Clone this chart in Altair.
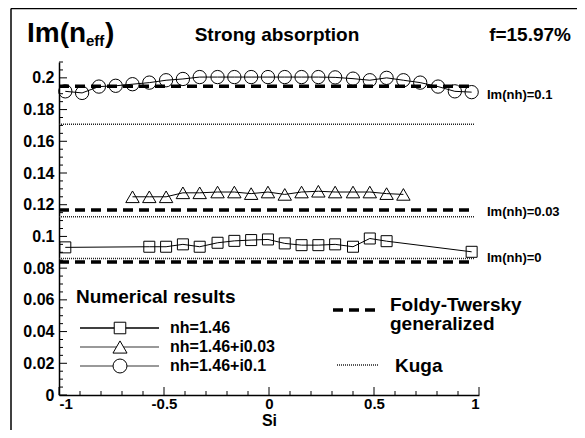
import altair as alt
import pandas as pd

# ---------------- data ----------------
si_circle = [-0.97, -0.89, -0.81, -0.73, -0.65, -0.57, -0.49, -0.41, -0.33, -0.245,
             -0.165, -0.085, -0.005, 0.075, 0.155, 0.235, 0.315, 0.40, 0.48, 0.56,
             0.64, 0.72, 0.805, 0.885, 0.965]
im_circle = [0.1915, 0.1905, 0.1945, 0.195, 0.196, 0.197, 0.1985, 0.1993, 0.2005, 0.2005,
             0.2005, 0.2005, 0.2005, 0.2005, 0.2005, 0.2005, 0.2003, 0.1995, 0.1985, 0.2,
             0.1985, 0.197, 0.1945, 0.1915, 0.191]

si_tri = [-0.65, -0.57, -0.49, -0.41, -0.33, -0.245, -0.165, -0.085, -0.005, 0.075,
          0.155, 0.235, 0.315, 0.40, 0.48, 0.56, 0.64]
im_tri = [0.125, 0.125, 0.125, 0.1275, 0.1275, 0.128, 0.128, 0.127, 0.128, 0.1265,
          0.128, 0.1285, 0.128, 0.128, 0.128, 0.127, 0.1265]

si_sq = [-0.97, -0.57, -0.49, -0.41, -0.33, -0.245, -0.165, -0.085, -0.005, 0.075,
         0.155, 0.235, 0.315, 0.40, 0.48, 0.56, 0.965]
im_sq = [0.0931, 0.0935, 0.0935, 0.0950, 0.0935, 0.0960, 0.0972, 0.0977, 0.0981, 0.0956,
         0.0945, 0.0945, 0.0950, 0.0935, 0.0987, 0.0970, 0.0903]

ft_levels = [0.1947, 0.1166, 0.0838]      # Foldy-Twersky generalized
ft_x = [-1.0, 0.965]
kuga_levels = [0.1708, 0.1124, 0.0861]    # Kuga
kuga_x = [-1.0, 0.98]
ref_labels = ["Im(nh)=0.1", "Im(nh)=0.03", "Im(nh)=0"]
ref_label_y = [0.189, 0.1155, 0.0861]

series_names = ["nh=1.46", "nh=1.46+i0.03", "nh=1.46+i0.1"]

x_major = [-1, -0.5, 0, 0.5, 1]
x_minor = [-0.9, -0.8, -0.7, -0.6, -0.4, -0.3, -0.2, -0.1, 0.1, 0.2, 0.3, 0.4, 0.6, 0.7, 0.8, 0.9]
y_major = [0, 0.02, 0.04, 0.06, 0.08, 0.1, 0.12, 0.14, 0.16, 0.18, 0.2]
y_minor = [round(i * 0.005, 3) for i in range(43) if i % 4 != 0]

# ---------------- layout / style ----------------
W, H = 420, 333
FONT = "Liberation Sans"

xscale = alt.Scale(domain=[-1, 1], nice=False, zero=False)
yscale = alt.Scale(domain=[0, 0.21], nice=False, zero=False)
xaxis = alt.Axis(values=x_major, labelExpr="toString(datum.value)", ticks=False, tickSize=0,
                 grid=False, domainColor="black", domainWidth=1.5, labelFont=FONT,
                 labelFontWeight="bold", labelFontSize=15, labelColor="black", labelPadding=1,
                 title="Si", titleFont=FONT, titleFontWeight="bold", titleFontSize=16,
                 titleColor="black", titlePadding=1)
yaxis = alt.Axis(values=y_major, labelExpr="toString(datum.value)", ticks=False, tickSize=0,
                 grid=False, domainColor="black", domainWidth=1.5, labelFont=FONT,
                 labelFontWeight="bold", labelFontSize=16, labelColor="black", labelPadding=5,
                 title=None)


def X(field):
    return alt.X(field, type="quantitative", scale=xscale, axis=xaxis)


def Y(field):
    return alt.Y(field, type="quantitative", scale=yscale, axis=yaxis)


dummy = pd.DataFrame({"d": [0]})


def label(text, x, y, size, align="left", baseline="alphabetic"):
    return alt.Chart(dummy).mark_text(
        text=text, font=FONT, fontWeight="bold", fontSize=size, align=align,
        baseline=baseline, color="black").encode(x=alt.value(x), y=alt.value(y))


layers = []

# reference lines
ft_df = pd.DataFrame({"x1": [ft_x[0]] * 3, "x2": [ft_x[1]] * 3, "y": ft_levels})
kuga_df = pd.DataFrame({"x1": [kuga_x[0]] * 3, "x2": [kuga_x[1]] * 3, "y": kuga_levels})
layers.append(alt.Chart(kuga_df).mark_rule(color="#222222", strokeWidth=1.5, strokeDash=[1, 1])
              .encode(x=X("x1"), x2="x2", y=Y("y")))
layers.append(alt.Chart(ft_df).mark_rule(color="black", strokeWidth=3.5, strokeDash=[10, 6])
              .encode(x=X("x1"), x2="x2", y=Y("y")))

# numerical series
series = [
    (si_sq, im_sq, "square", 121),
    (si_tri, im_tri, "triangle-up", 180),
    (si_circle, im_circle, "circle", 177),
]
for (xs, ys, shape, size), name in zip(series, series_names):
    df = pd.DataFrame({"x": xs, "y": ys, "s": name})
    layers.append(alt.Chart(df).mark_line(color="black", strokeWidth=1)
                  .encode(x=X("x"), y=Y("y")))
    layers.append(alt.Chart(df).mark_point(shape=shape, size=size, filled=False,
                                           color="black", strokeWidth=1, opacity=1)
                  .encode(x=X("x"), y=Y("y")))

# right-hand labels of reference lines
rl = pd.DataFrame({"y": ref_label_y, "t": ref_labels})
layers.append(alt.Chart(rl).mark_text(font=FONT, fontWeight="bold", fontSize=13, align="left",
                                      baseline="middle", color="black")
              .encode(x=alt.value(W + 8), y=Y("y"), text="t:N"))

# inward ticks
layers.append(alt.Chart(pd.DataFrame({"x": x_major})).mark_rule(color="black", strokeWidth=1)
              .encode(x=X("x"), y=alt.value(H), y2=alt.value(H - 8)))
layers.append(alt.Chart(pd.DataFrame({"x": x_minor})).mark_rule(color="black", strokeWidth=1)
              .encode(x=X("x"), y=alt.value(H), y2=alt.value(H - 4)))
layers.append(alt.Chart(pd.DataFrame({"y": y_major})).mark_rule(color="black", strokeWidth=1)
              .encode(y=Y("y"), x=alt.value(0), x2=alt.value(8)))
layers.append(alt.Chart(pd.DataFrame({"y": y_minor})).mark_rule(color="black", strokeWidth=1)
              .encode(y=Y("y"), x=alt.value(0), x2=alt.value(4)))

# titles
layers.append(label("Im(n", -32, -20, 28))
layers.append(label("eff", 27, -16, 15))
layers.append(label(")", 46, -20, 28))
layers.append(label("Strong absorption", W / 2 + 8, -21, 19, align="center"))
layers.append(label("f=15.97%", 512, -21, 19, align="right"))

# legend: numerical results
layers.append(label("Numerical results", 17, 241, 19))
leg_y = [266, 285, 304]
leg_line_col = ["black", "#777777", "#777777"]
for (xs, ys, shape, size), name, ly, lc in zip(series, series_names, leg_y, leg_line_col):
    layers.append(alt.Chart(dummy).mark_rule(color=lc, strokeWidth=1.5)
                  .encode(x=alt.value(21), x2=alt.value(100), y=alt.value(ly)))
    layers.append(alt.Chart(dummy).mark_point(shape=shape, size=size * 1.1, filled=False,
                                              fill="white", color="black", strokeWidth=1,
                                              opacity=1)
                  .encode(x=alt.value(61), y=alt.value(ly)))
    layers.append(label(name, 111, ly, 16, baseline="middle"))

# legend: analytical models
layers.append(alt.Chart(dummy).mark_rule(color="black", strokeWidth=3.5, strokeDash=[10, 6])
              .encode(x=alt.value(274), x2=alt.value(318), y=alt.value(248)))
layers.append(label("Foldy-Twersky", 331, 249, 19))
layers.append(label("generalized", 331, 268, 19))
layers.append(alt.Chart(dummy).mark_rule(color="#222222", strokeWidth=1.5, strokeDash=[1, 1])
              .encode(x=alt.value(278), x2=alt.value(320), y=alt.value(303)))
layers.append(label("Kuga", 336, 310, 19))

# frame (top and left edges of the figure box)
layers.append(alt.Chart(dummy).mark_rule(color="black", strokeWidth=1.5)
              .encode(x=alt.value(-48), y=alt.value(-53.5), y2=alt.value(368)))
layers.append(alt.Chart(dummy).mark_rule(color="black", strokeWidth=1.5)
              .encode(x=alt.value(-48), x2=alt.value(520), y=alt.value(-53.5)))

chart = alt.layer(*layers).properties(
    width=W, height=H,
    padding={"left": 51, "top": 54, "right": 98, "bottom": 35},
    autosize=alt.AutoSizeParams(type="none"),
    background="white",
).configure_view(stroke=None)

chart.save("out.html", embed_options={"renderer": "svg", "actions": False})
